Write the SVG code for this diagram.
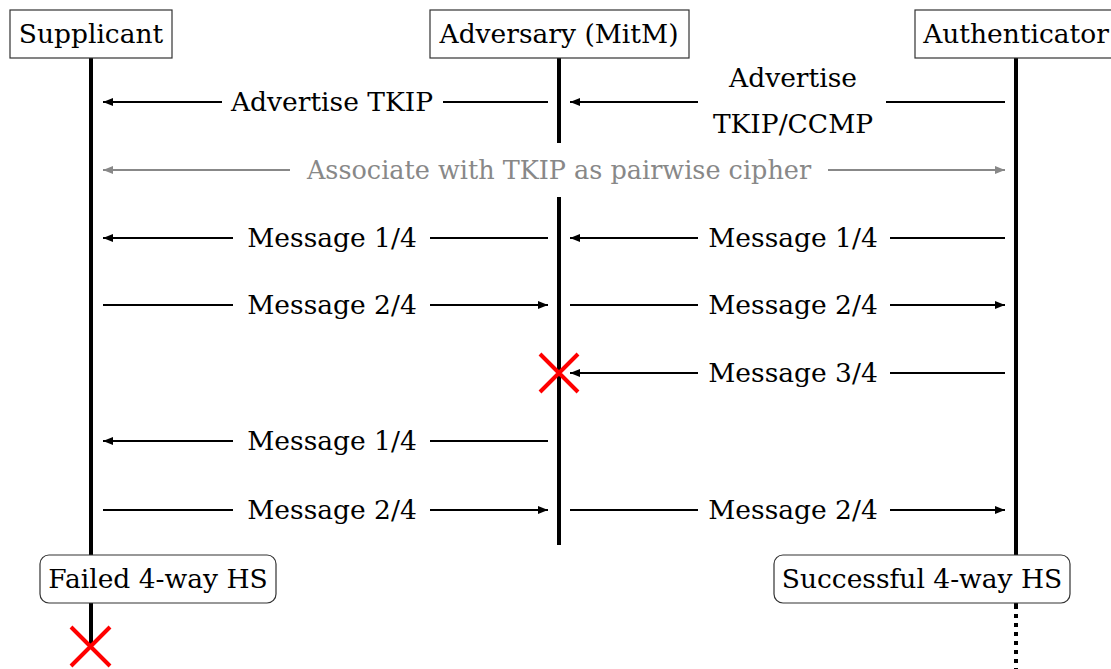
<svg xmlns="http://www.w3.org/2000/svg" width="1111" height="669" viewBox="0 0 1111 669">
<style>
text{font-family:"DejaVu Serif","Liberation Serif",serif;font-size:26.5px;fill:#000;text-anchor:middle}
.box{fill:#fff;stroke:#333;stroke-width:1.2}
.life{stroke:#000;stroke-width:4;fill:none}
.msg{stroke:#000;stroke-width:2;fill:none}
.gray{stroke:#888;stroke-width:2;fill:none}
.x{stroke:#f00;stroke-width:4;fill:none}
.g{fill:#888;font-size:25.5px}
</style>
<defs>
<marker id="ah" viewBox="0 0 10 8" refX="10" refY="4" markerWidth="10" markerHeight="8" markerUnits="userSpaceOnUse" orient="auto-start-reverse"><path d="M0,0 L10,4 L0,8 Z" fill="#000"/></marker>
<marker id="ahg" viewBox="0 0 10 8" refX="10" refY="4" markerWidth="10" markerHeight="8" markerUnits="userSpaceOnUse" orient="auto-start-reverse"><path d="M0,0 L10,4 L0,8 Z" fill="#888"/></marker>
</defs>
<g id="lifelines">
<line class="life" x1="91" y1="58" x2="91" y2="648"/>
<line class="life" x1="559" y1="58" x2="559" y2="143"/>
<line class="life" x1="559" y1="197" x2="559" y2="545"/>
<line class="life" x1="1016" y1="58" x2="1016" y2="605"/>
<line class="life" x1="1016" y1="605" x2="1016" y2="669" stroke-dasharray="4 5"/>
</g>
<g id="supplicant"><rect class="box" x="10" y="10" width="162" height="48"/><text x="91" y="43">Supplicant</text></g>
<g id="adversary"><rect class="box" x="430" y="10" width="259" height="48"/><text x="559" y="43">Adversary (MitM)</text></g>
<g id="authenticator"><rect class="box" x="915" y="10" width="200" height="48"/><text x="1016" y="43">Authenticator</text></g>
<g id="connectors">
<line class="msg" x1="222" y1="102" x2="103" y2="102" marker-end="url(#ah)"/>
<line class="msg" x1="548" y1="102" x2="443" y2="102"/>
<text x="332" y="111">Advertise TKIP</text>
<line class="msg" x1="698" y1="102" x2="570" y2="102" marker-end="url(#ah)"/>
<line class="msg" x1="1005" y1="102" x2="886" y2="102"/>
<text x="793" y="87">Advertise</text>
<text x="793" y="133">TKIP/CCMP</text>
<line class="gray" x1="290" y1="170" x2="103" y2="170" marker-end="url(#ahg)"/>
<line class="gray" x1="828" y1="170" x2="1005" y2="170" marker-end="url(#ahg)"/>
<text class="g" x="559" y="179">Associate with TKIP as pairwise cipher</text>
<line class="msg" x1="233" y1="238" x2="103" y2="238" marker-end="url(#ah)"/>
<line class="msg" x1="548" y1="238" x2="430" y2="238"/>
<text x="332" y="247">Message 1/4</text>
<line class="msg" x1="698" y1="238" x2="570" y2="238" marker-end="url(#ah)"/>
<line class="msg" x1="1005" y1="238" x2="890" y2="238"/>
<text x="793" y="247">Message 1/4</text>
<line class="msg" x1="103" y1="305" x2="233" y2="305"/>
<line class="msg" x1="430" y1="305" x2="548" y2="305" marker-end="url(#ah)"/>
<text x="332" y="314">Message 2/4</text>
<line class="msg" x1="570" y1="305" x2="698" y2="305"/>
<line class="msg" x1="890" y1="305" x2="1005" y2="305" marker-end="url(#ah)"/>
<text x="793" y="314">Message 2/4</text>
<line class="msg" x1="698" y1="373" x2="570" y2="373" marker-end="url(#ah)"/>
<line class="msg" x1="1005" y1="373" x2="890" y2="373"/>
<text x="793" y="382">Message 3/4</text>
<line class="msg" x1="233" y1="441" x2="103" y2="441" marker-end="url(#ah)"/>
<line class="msg" x1="548" y1="441" x2="430" y2="441"/>
<text x="332" y="450">Message 1/4</text>
<line class="msg" x1="103" y1="510" x2="233" y2="510"/>
<line class="msg" x1="430" y1="510" x2="548" y2="510" marker-end="url(#ah)"/>
<text x="332" y="519">Message 2/4</text>
<line class="msg" x1="570" y1="510" x2="698" y2="510"/>
<line class="msg" x1="890" y1="510" x2="1005" y2="510" marker-end="url(#ah)"/>
<text x="793" y="519">Message 2/4</text>
</g>
<g id="x-adversary"><path class="x" d="M540,354 L578,392 M578,354 L540,392"/></g>
<g id="failed"><rect class="box" x="40" y="555" width="236" height="48" rx="9"/><text x="158" y="588">Failed 4-way HS</text></g>
<g id="successful"><rect class="box" x="774" y="555" width="296" height="48" rx="9"/><text x="922" y="588">Successful 4-way HS</text></g>
<g id="x-supplicant"><path class="x" d="M71,627 L110,666 M110,627 L71,666"/></g>
</svg>
